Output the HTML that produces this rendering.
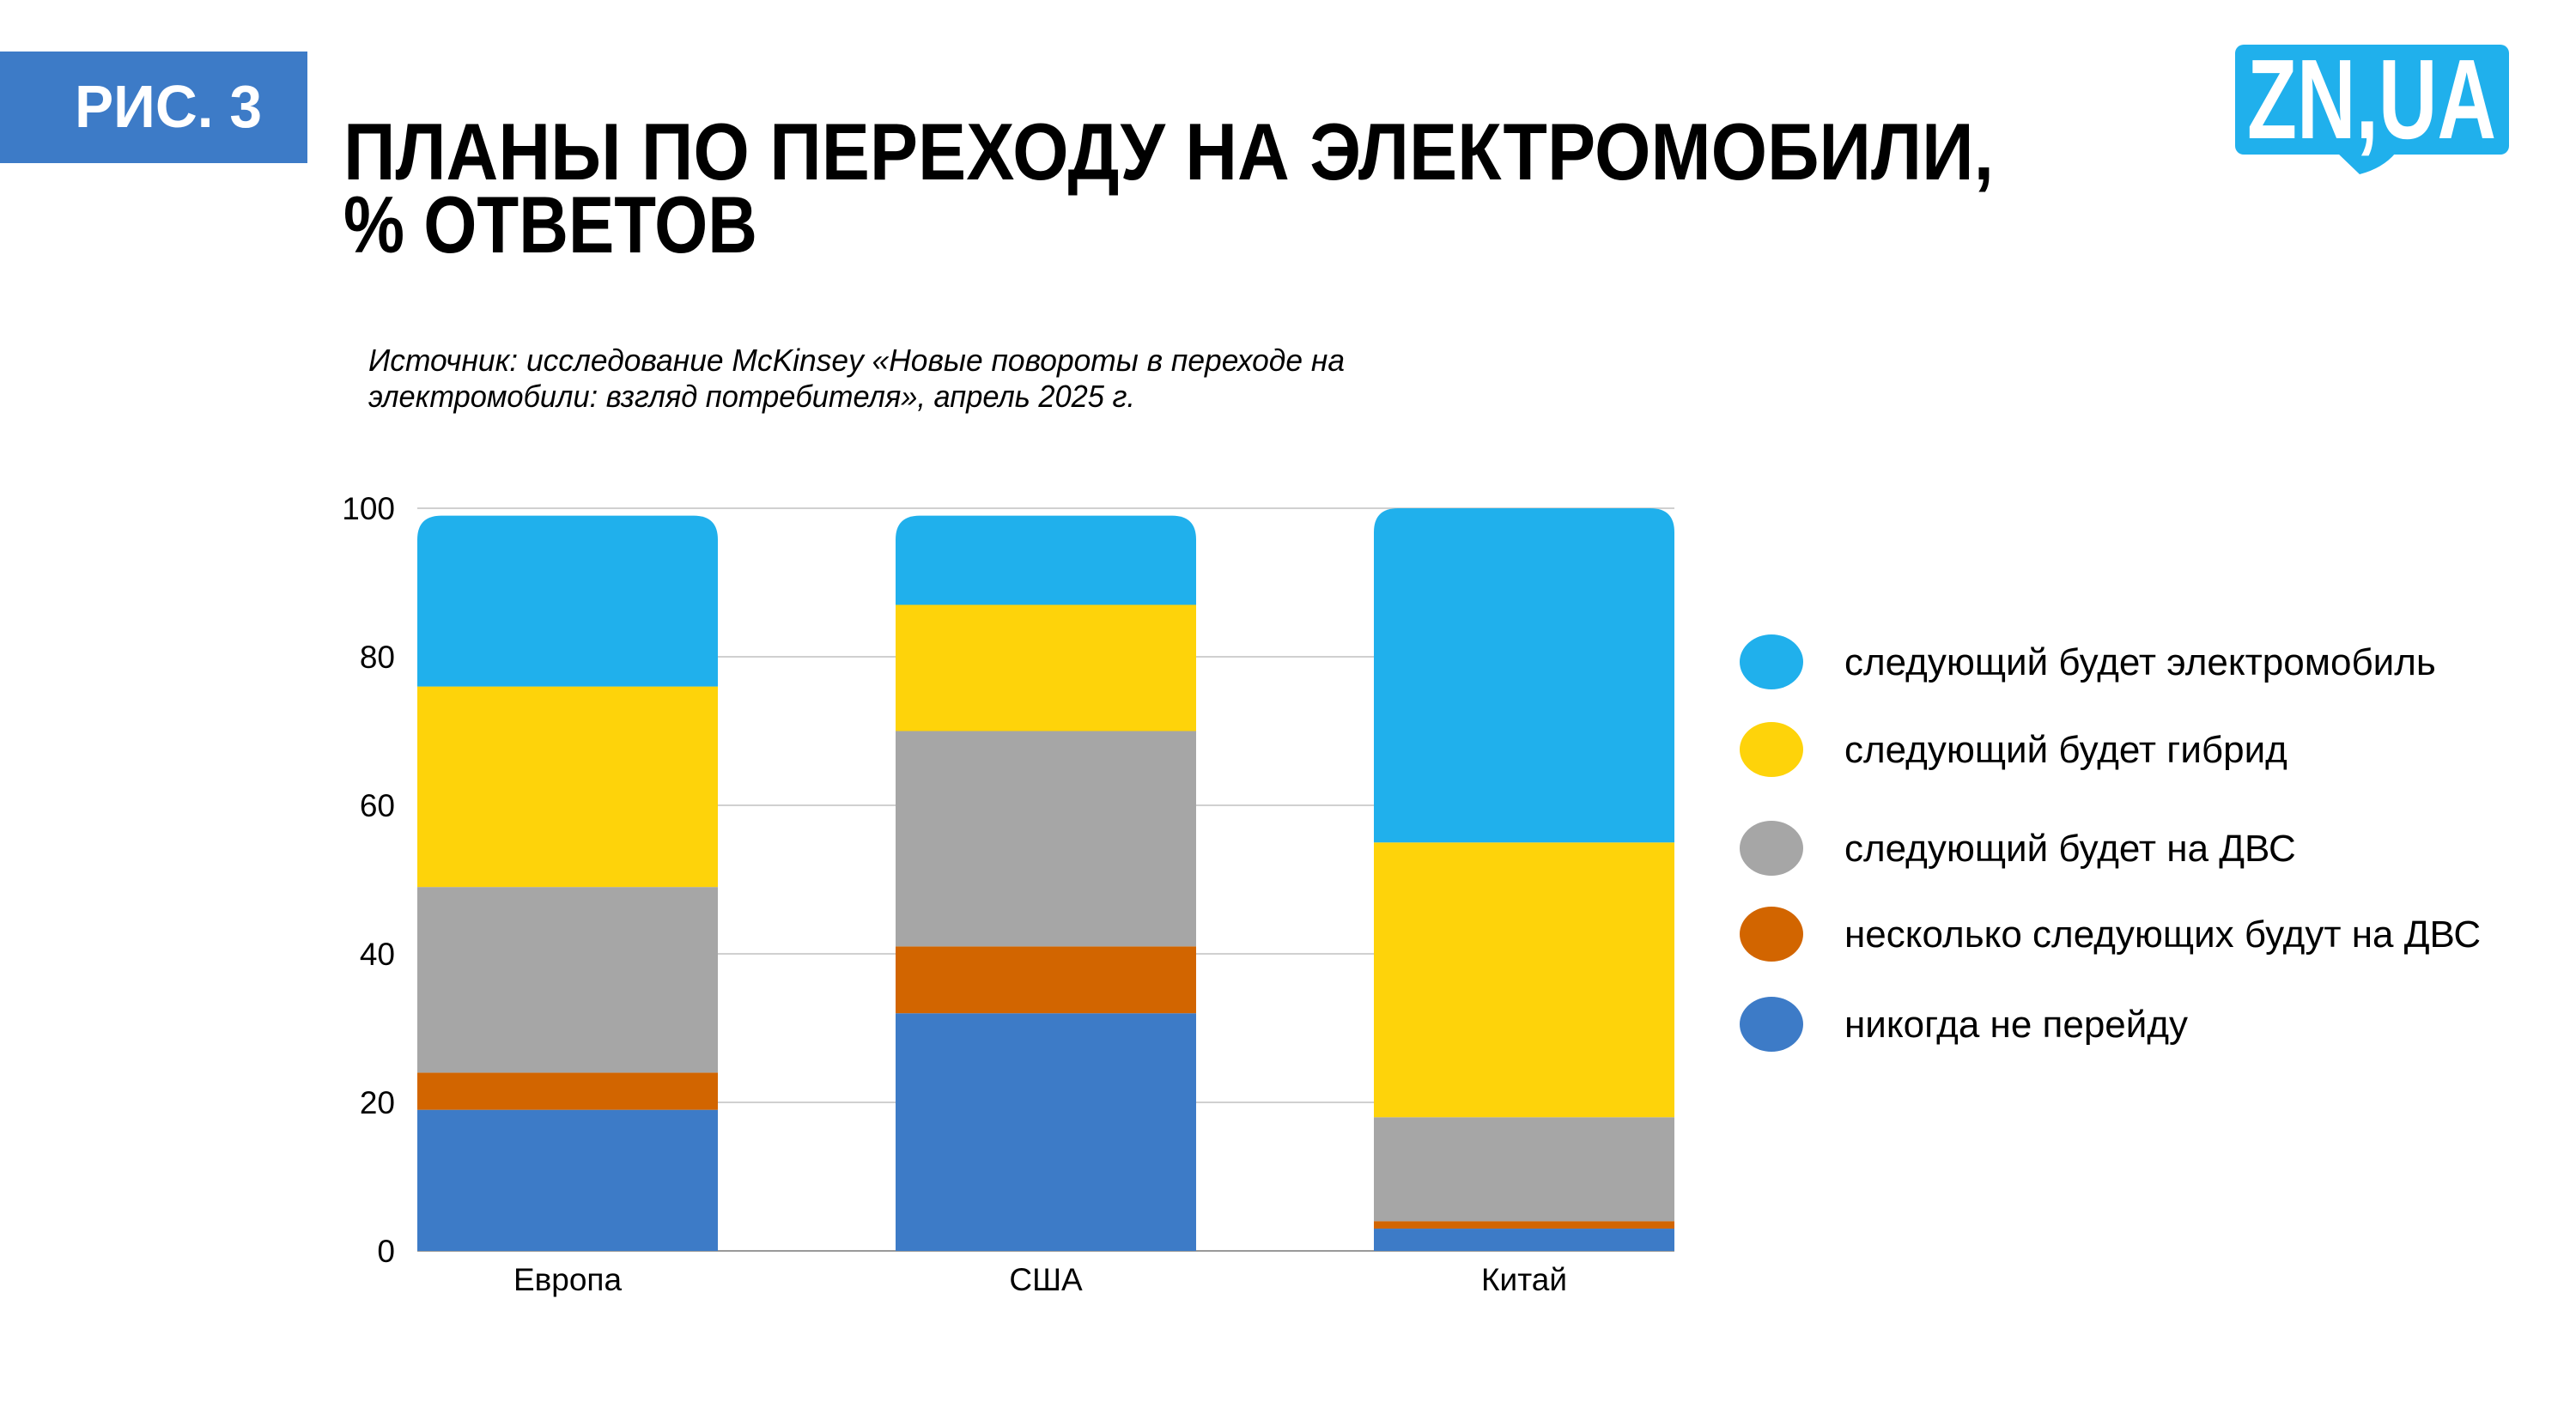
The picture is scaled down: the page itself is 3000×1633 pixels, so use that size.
<!DOCTYPE html>
<html><head><meta charset="utf-8"><style>
html,body{margin:0;padding:0;background:#fff;}
svg{display:block;}
text{font-family:"Liberation Sans",sans-serif;}
</style></head><body>
<svg id="chart" width="3000" height="1633" viewBox="0 0 3000 1633" xmlns="http://www.w3.org/2000/svg">
  <rect x="0" y="60" width="358" height="130" fill="#3d7bc7"/>
  <text x="196" y="148" text-anchor="middle" font-size="70" font-weight="bold" fill="#fff" textLength="218" lengthAdjust="spacingAndGlyphs">РИС. 3</text>
  <text x="400" y="209" font-size="94" font-weight="bold" fill="#000" textLength="1922" lengthAdjust="spacingAndGlyphs">ПЛАНЫ ПО ПЕРЕХОДУ НА ЭЛЕКТРОМОБИЛИ,</text>
  <text x="400" y="294" font-size="94" font-weight="bold" fill="#000" textLength="482" lengthAdjust="spacingAndGlyphs">% ОТВЕТОВ</text>
  <text x="429" y="432" font-size="36" font-style="italic" fill="#000" textLength="1137" lengthAdjust="spacingAndGlyphs">Источник: исследование McKinsey «Новые повороты в переходе на</text>
  <text x="429" y="474" font-size="36" font-style="italic" fill="#000" textLength="893" lengthAdjust="spacingAndGlyphs">электромобили: взгляд потребителя», апрель 2025 г.</text>
  <g>
    <rect x="2603" y="52" width="319" height="128" rx="10" fill="#20b0ec"/>
    <path d="M2722 178 L2748 203 Q2775 196 2790 178 Z" fill="#20b0ec"/>
    <text x="2762" y="161" text-anchor="middle" font-size="132" font-weight="bold" fill="#fff" textLength="290" lengthAdjust="spacingAndGlyphs">ZN,UA</text>
  </g>
  <g id="grid"></g>
  <g id="bars"></g>
  <g id="axes"></g>
  <g id="legend"></g>
</svg>
<script>
const categories = ["Европа", "США", "Китай"];
const seriesNames = ["никогда не перейду", "несколько следующих будут на ДВС", "следующий будет на ДВС", "следующий будет гибрид", "следующий будет электромобиль"];
const seriesColors = ["#3d7bc7", "#d26500", "#a6a6a6", "#fed30a", "#20b0ec"];
const neverValues = [19, 32, 3];
const severalIceValues = [5, 9, 1];
const nextIceValues = [25, 29, 14];
const hybridValues = [27, 17, 37];
const evValues = [23, 12, 45];
const yTicks = [0, 20, 40, 60, 80, 100];

const NS = "http://www.w3.org/2000/svg";
const series = [neverValues, severalIceValues, nextIceValues, hybridValues, evValues];
const y0 = 1457, y100 = 592;
function yScale(v){ return y0 - (y0 - y100) * v / 100; }
function xCenter(i){ return 661 + i * 557; }
const barW = 350, gridX0 = 486, gridX1 = 1950, rad = 28;
function mk(tag, attrs, parent){ const e = document.createElementNS(NS, tag); for (const k in attrs) e.setAttribute(k, attrs[k]); parent.appendChild(e); return e; }

const grid = document.getElementById('grid');
const axes = document.getElementById('axes');
yTicks.forEach(t => {
  const l = mk('line', {x1: gridX0, x2: gridX1, y1: yScale(t), y2: yScale(t), stroke: t === 0 ? '#999' : '#d0d0d0', 'stroke-width': 2}, grid);
  
  
  const tx = mk('text', {x: 460, y: yScale(t) + 13, 'text-anchor': 'end', 'font-size': 37, fill: '#000'}, axes);
  tx.textContent = t;
  
  
});

const bars = document.getElementById('bars');
categories.forEach((c, i) => {
  let cum = 0;
  const x = xCenter(i) - barW / 2;
  series.forEach((s, k) => {
    const v = s[i];
    const yb = yScale(cum), yt = yScale(cum + v);
    cum += v;
    let el;
    if (k === series.length - 1) {
      const r = Math.min(rad, yb - yt);
      el = mk('path', {d: `M${x} ${yb} L${x} ${yt + r} Q${x} ${yt} ${x + r} ${yt} L${x + barW - r} ${yt} Q${x + barW} ${yt} ${x + barW} ${yt + r} L${x + barW} ${yb} Z`, fill: seriesColors[k]}, bars);
    } else {
      el = mk('rect', {x: x, y: yt, width: barW, height: yb - yt, fill: seriesColors[k]}, bars);
    }
    
    
  });
  const lab = mk('text', {x: xCenter(i), y: 1503, 'text-anchor': 'middle', 'font-size': 37, fill: '#000'}, axes);
  lab.textContent = c;
  
  
});

const legend = document.getElementById('legend');
const legendY = [1193, 1088, 988, 873, 771];
seriesNames.forEach((n, k) => {
  const g = mk('g', {}, legend);
  
  
  mk('ellipse', {cx: 2088 - 25, cy: legendY[k], rx: 37, ry: 32, fill: seriesColors[k]}, g);
  const t = mk('text', {x: 2148, y: legendY[k] + 15, 'font-size': 44, fill: '#000'}, g);
  t.textContent = n;
});
</script>
</body></html>
